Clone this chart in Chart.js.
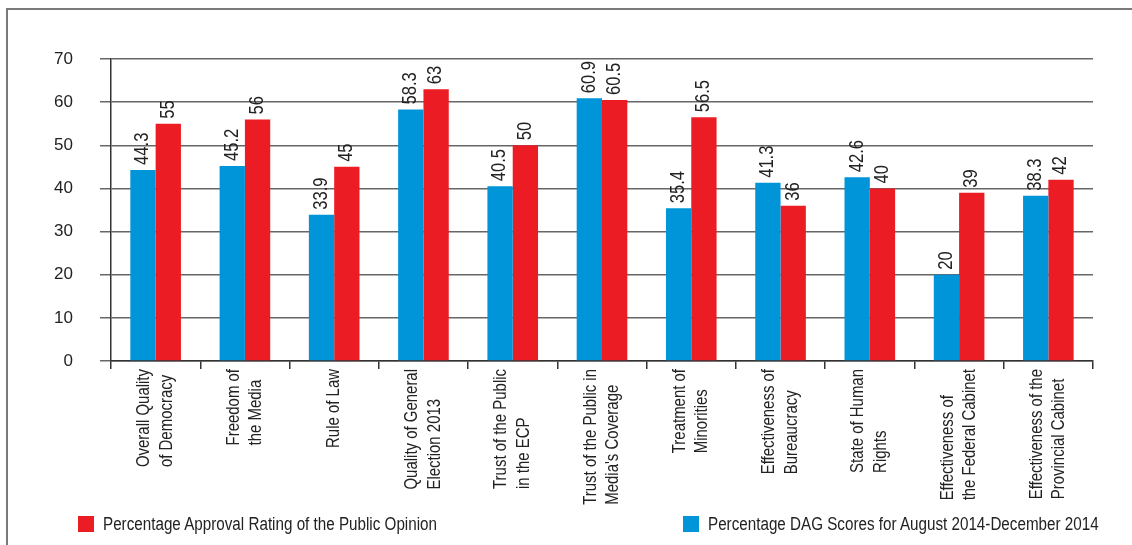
<!DOCTYPE html>
<html lang="en">
<head>
  <meta charset="UTF-8">
  <title>DAG Scores vs Public Opinion</title>
  <script src="https://cdn.jsdelivr.net/npm/chart.js"></script>
  <style>
    body { margin: 0; background: #fff; font-family: "Liberation Sans", Arial, sans-serif; }
    .wrap { position: relative; width: 1132px; height: 545px; overflow: hidden; }
    .frame { position: absolute; left: 6px; top: 8px; width: 1200px; height: 600px; border-left: 2px solid #7a7a7a; border-top: 2px solid #7a7a7a; }
    canvas { position: absolute; left: 0; top: 0; }
    .legend-item { position: absolute; top: 513px; font-size: 18px; color: #222; white-space: nowrap; line-height: 22px; }
    .legend-item i { display: inline-block; width: 16px; height: 16px; vertical-align: -2px; margin-right: 9px; }
    /* narrow the text the way a condensed face would */
    .legend-item span { display: inline-block; transform: scaleX(0.845); transform-origin: 0 50%; }
  </style>
</head>
<body>
  <div class="wrap">
    <div class="frame"></div>
    <canvas id="chart" width="1132" height="545"></canvas>
    <div id="legend"></div>
  </div>

  <script>
    const categories = [
      ['Overall Quality', 'of Democracy'],
      ['Freedom of', 'the Media'],
      ['Rule of Law'],
      ['Quality of General', 'Election 2013'],
      ['Trust of the Public', 'in the ECP'],
      ['Trust of the Public in', "Media's Coverage"],
      ['Treatment of', 'Minorities'],
      ['Effectiveness of', 'Bureaucracy'],
      ['State of Human', 'Rights'],
      ['Effectiveness of', 'the Federal Cabinet'],
      ['Effectiveness of the', 'Provincial Cabinet']
    ];
    const dagScores = [44.3, 45.2, 33.9, 58.3, 40.5, 60.9, 35.4, 41.3, 42.6, 20, 38.3];
    const approvalRatings = [55, 56, 45, 63, 50, 60.5, 56.5, 36, 40, 39, 42];
    const yTicks = [0, 10, 20, 30, 40, 50, 60, 70];

    const FONT = '"Liberation Sans", Arial, sans-serif';
    const NARROW = 0.85; // horizontal squeeze for canvas text

    // vertical value labels sitting just above each bar
    const barValues = {
      id: 'barValues',
      afterDatasetsDraw(chart) {
        const ctx = chart.ctx;
        ctx.save();
        ctx.font = '19.5px ' + FONT;
        ctx.fillStyle = '#222';
        ctx.textAlign = 'left';
        ctx.textBaseline = 'middle';
        chart.data.datasets.forEach((ds, i) => {
          chart.getDatasetMeta(i).data.forEach((bar, j) => {
            ctx.save();
            ctx.translate(bar.x, bar.y - 5);
            ctx.rotate(-Math.PI / 2);
            ctx.scale(NARROW, 1);
            ctx.fillText(String(ds.data[j]), 0, 0);
            ctx.restore();
          });
        });
        ctx.restore();
      }
    };

    // rotated category names: block hangs from the axis, lines share a left edge
    const categoryNames = {
      id: 'categoryNames',
      afterDraw(chart) {
        const ctx = chart.ctx;
        const scale = chart.scales.x;
        const lh = 22.5;
        const top = scale.top + 8;
        ctx.save();
        ctx.font = '17.6px ' + FONT;
        ctx.fillStyle = '#222';
        ctx.textAlign = 'left';
        ctx.textBaseline = 'middle';
        chart.data.labels.forEach((lines, i) => {
          const cx = scale.getPixelForValue(i);
          const blockW = Math.max(...lines.map(t => ctx.measureText(t).width)) * NARROW;
          lines.forEach((t, j) => {
            ctx.save();
            ctx.translate(cx + (j - (lines.length - 1) / 2) * lh, top + blockW);
            ctx.rotate(-Math.PI / 2);
            ctx.scale(NARROW, 1);
            ctx.fillText(t, 0, 0);
            ctx.restore();
          });
        });
        ctx.restore();
      }
    };

    const chart = new Chart(document.getElementById('chart'), {
      type: 'bar',
      data: {
        labels: categories,
        datasets: [
          { label: 'Percentage DAG Scores for August 2014-December 2014', data: dagScores, backgroundColor: '#0095d9' },
          { label: 'Percentage Approval Rating of the Public Opinion', data: approvalRatings, backgroundColor: '#ec1c24' }
        ]
      },
      options: {
        responsive: false,
        animation: false,
        layout: { padding: { top: 59, right: 39, bottom: 39, left: 0 } },
        datasets: { bar: { categoryPercentage: 0.567, barPercentage: 1 } },
        plugins: { legend: { display: false }, tooltip: { enabled: false } },
        scales: {
          x: {
            afterFit: s => { s.height = 145; },
            grid: { drawOnChartArea: false, tickLength: 8, color: '#333', lineWidth: 1.5 },
            border: { color: '#333', width: 1.5 },
            ticks: { display: false }
          },
          y: {
            min: 0, max: 70,
            afterFit: s => { s.width = 111; },
            afterBuildTicks: s => { s.ticks = yTicks.map(v => ({ value: v })); },
            grid: { color: '#666', lineWidth: 1.5, tickLength: 11 },
            border: { color: '#333', width: 1.5 },
            ticks: { padding: 27, color: '#222', font: { family: FONT, size: 17 } }
          }
        }
      },
      plugins: [barValues, categoryNames]
    });

    // legend: approval rating on the left, DAG scores on the right
    const legendPos = [{ ds: 1, left: 78 }, { ds: 0, left: 683 }];
    const legend = document.getElementById('legend');
    legendPos.forEach(p => {
      const ds = chart.data.datasets[p.ds];
      const item = document.createElement('div');
      item.className = 'legend-item';
      item.style.left = p.left + 'px';
      const box = document.createElement('i');
      box.style.background = ds.backgroundColor;
      const text = document.createElement('span');
      text.textContent = ds.label;
      item.appendChild(box);
      item.appendChild(text);
      legend.appendChild(item);
    });
  </script>
</body>
</html>
